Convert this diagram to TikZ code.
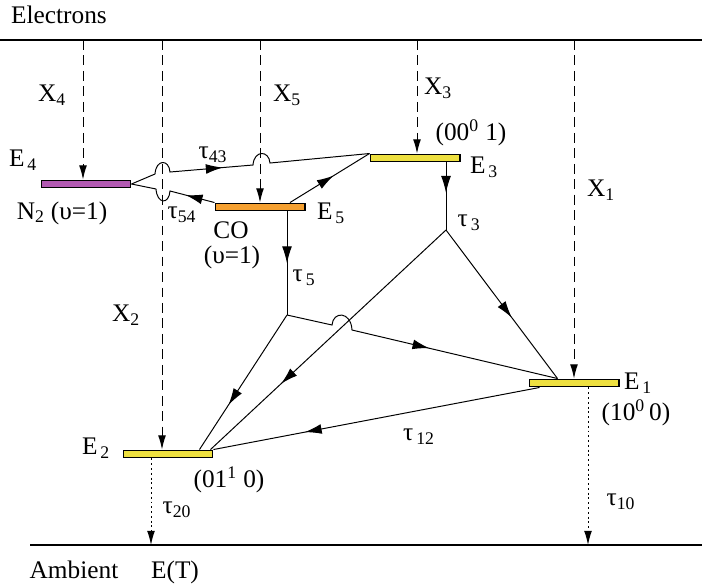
\documentclass[tikz,border=0pt]{standalone}
\usepackage{fontspec}
\setmainfont{Liberation Serif}
\usetikzlibrary{arrows.meta,calc,decorations.markings}
\newcommand{\lowsub}[1]{\textsubscript{#1}}
\definecolor{nitro}{HTML}{B35AB3}
\definecolor{cobar}{HTML}{F5A030}
\definecolor{cotwo}{HTML}{EEE040}

\begin{document}
\begin{tikzpicture}[x=0.025cm,y=-0.025cm,line width=0.7pt,font=\fontsize{18}{20}\selectfont,
  lvl/.style={draw,line width=1.4pt,minimum width=2.225cm,minimum height=0.175cm,inner sep=0},
  pump/.style={dash pattern=on 7pt off 4pt,-{Latex[length=10pt,width=5.5pt]}},
  decay/.style={dash pattern=on 1.4pt off 2pt,-{Latex[length=10pt,width=5.5pt]}},
  flow/.style={postaction={decorate},decoration={markings,mark=at position #1 with {\arrow{Latex[length=12pt,width=7pt]}}}}]
\useasboundingbox (0,0) rectangle (702,587);
% reservoirs
\draw[line width=1.4pt] (0,40) -- (702,40);
\draw[line width=1.4pt] (30,545) -- (702,545);
% levels
\node[lvl,fill=nitro] (e4) at (86,184) {};
\node[lvl,fill=cobar] (e5) at (260,207) {};
\node[lvl,fill=cotwo] (e3) at (415,158) {};
\node[lvl,fill=cotwo] (e1) at (574,383) {};
\node[lvl,fill=cotwo] (e2) at (168,454) {};
% pumping by electrons
\foreach \lv/\x in {e4/83,e2/162,e5/260,e3/417,e1/574}{
  \coordinate (top\lv) at (\x,40);
  \draw[pump] (top\lv) -- (top\lv |- \lv.north);
}
% decay to ambient
\coordinate (amb2) at (151,545);
\coordinate (amb1) at (588,545);
\draw[decay] (amb2 |- e2.south) -- (amb2);
\draw[decay] (amb1 |- e1.south) -- (amb1);
% relaxation
\coordinate (t3) at (446,230);
\coordinate (t5) at (287,315);
\draw[flow=0.45] (t3 |- e3.south) -- (t3);
\draw[flow=0.5] (t5 |- e5.south) -- (t5);
\draw[flow=0.59] (t3) -- ($(e1.north west)+(29,0)$);
\draw[flow=0.70] (t3) -- ($(e2.north east)+(-3,0)$);
\draw[flow=0.67] (t5) -- ($(e2.north east)+(-14,0)$);
\draw[flow=0.55] (t5) -- (332,325) .. controls (333,311) and (351,311) .. (352,330) -- ($(e1.north west)+(29,0)$);
\draw[flow=0.72] ($(e1.south west)+(11,0)$) -- (e2.north east);
\draw[flow=0.55] ($(e5.north)+(30,0)$) -- (e3.north west);
% transfer N2 <-> CO2, CO
\draw[flow=0.4] (e4.east) -- (155,174) .. controls (156,159) and (169,159) .. (170,172)
  -- (253,165) .. controls (254,150) and (269,150) .. (270,163) -- (e3.north west);
\draw[flow=0.3] (e5.north west) -- (170,191) .. controls (169,205) and (157,204) .. (156,189) -- (e4.east);
% labels
\foreach \nm/\x/\y/\txt in {elec/59/15/Electrons, amb/74/570/Ambient, et/175/572/E(T),
  lx4/52/95/{X\lowsub{4}}, lx5/287/95/{X\lowsub{5}}, lx3/438/88/{X\lowsub{3}},
  lx1/601/190/{X\lowsub{1}}, lx2/126/315/{X\lowsub{2}},
  le4/23/160/{E\lowsub{\,4}}, ln2/62/213/{N\lowsub{2} (υ=1)}, le5/331/213/{E\lowsub{\,5}},
  lco/231/230/CO, lco1/232/257/{(υ=1)},
  lt43/213/155/{τ\lowsub{43}}, lt54/182/215/{τ\lowsub{54}}, lt5/304/278/{τ\lowsub{\,5}},
  lv3/471/133/{(00\textsuperscript{0} 1)}, le3/484/167/{E\lowsub{\,3}}, lt3/469/223/{τ\lowsub{\,3}},
  le1/638/383/{E\lowsub{\,1}}, lv1/636/413/{(10\textsuperscript{0}\,0)},
  lt12/419/437/{τ\lowsub{\,12}}, lt10/621/502/{τ\lowsub{10}},
  le2/96/448/{E\lowsub{\,2}}, lv2/229/480/{(01\textsuperscript{1} 0)}, lt20/177/510/{τ\lowsub{20}}}{
  \node (\nm) at (\x,\y) {\txt};
}
\end{tikzpicture}
\end{document}
